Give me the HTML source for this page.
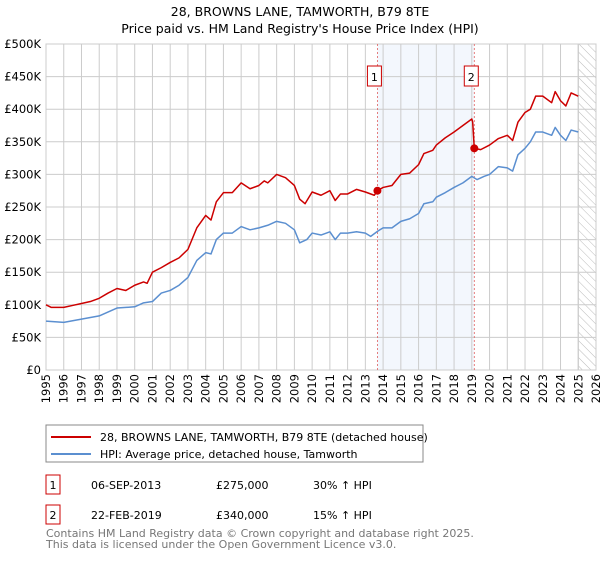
<!DOCTYPE html>
<html><head><meta charset="utf-8"><style>
body{margin:0;background:#fff;font-family:"Liberation Sans","DejaVu Sans",sans-serif;}
svg text{font-family:"DejaVu Sans","Liberation Sans",sans-serif;}
</style></head><body>
<svg id="chart" width="600" height="560" xmlns="http://www.w3.org/2000/svg">
<defs><pattern id="hatch" width="6" height="6" patternUnits="userSpaceOnUse" patternTransform="rotate(-45)"><line x1="0" y1="0" x2="0" y2="6" stroke="#bbb" stroke-width="1"/></pattern></defs>
<text x="300" y="16" text-anchor="middle" font-size="12.5">28, BROWNS LANE, TAMWORTH, B79 8TE</text>
<text x="300" y="33" text-anchor="middle" font-size="12.5">Price paid vs. HM Land Registry's House Price Index (HPI)</text>
<g id="grid"></g><g id="marks"></g>
<rect x="46" y="425" width="377" height="37" fill="#fff" stroke="#888"/>
<line x1="51" y1="437" x2="91" y2="437" stroke="#cc0000" stroke-width="2"/>
<text x="100" y="441" font-size="11">28, BROWNS LANE, TAMWORTH, B79 8TE (detached house)</text>
<line x1="51" y1="454" x2="91" y2="454" stroke="#5b8fd0" stroke-width="2"/>
<text x="100" y="458" font-size="11">HPI: Average price, detached house, Tamworth</text>
<g font-size="11">
<rect x="46" y="475" width="14" height="19" fill="#fff" stroke="#cc0000"/><text x="53" y="489" text-anchor="middle">1</text>
<text x="91" y="489">06-SEP-2013</text><text x="216" y="489">£275,000</text><text x="313" y="489">30% ↑ HPI</text></g>
<g font-size="11">
<rect x="46" y="505" width="14" height="19" fill="#fff" stroke="#cc0000"/><text x="53" y="519" text-anchor="middle">2</text>
<text x="91" y="519">22-FEB-2019</text><text x="216" y="519">£340,000</text><text x="313" y="519">15% ↑ HPI</text></g>
<text x="46" y="537" font-size="11" fill="#777">Contains HM Land Registry data © Crown copyright and database right 2025.</text>
<text x="46" y="548" font-size="11" fill="#777">This data is licensed under the Open Government Licence v3.0.</text>
</svg>
<script>
const hpiYears=[1995,1996,1997,1998,1999,2000,2000.5,2001,2001.5,2002,2002.5,2003,2003.5,2004,2004.3,2004.6,2005,2005.5,2006,2006.5,2007,2007.5,2008,2008.5,2009,2009.3,2009.7,2010,2010.5,2011,2011.3,2011.6,2012,2012.5,2013,2013.3,2013.7,2014,2014.5,2015,2015.5,2016,2016.3,2016.8,2017,2017.5,2018,2018.5,2019,2019.3,2019.7,2020,2020.5,2021,2021.3,2021.6,2022,2022.3,2022.6,2023,2023.5,2023.7,2024,2024.3,2024.6,2025];
const hpiValues=[75,73,78,83,95,97,103,105,118,122,130,142,168,180,178,200,210,210,220,215,218,222,228,225,215,195,200,210,207,212,200,210,210,212,210,205,213,218,218,228,232,240,255,258,265,272,280,287,297,292,297,300,312,310,305,330,340,350,365,365,360,372,360,352,368,365];
const priceYears=[1995,1995.3,1996,1996.5,1997,1997.5,1998,1998.5,1999,1999.5,2000,2000.5,2000.7,2001,2001.5,2002,2002.5,2003,2003.5,2004,2004.3,2004.6,2005,2005.5,2006,2006.5,2007,2007.3,2007.5,2008,2008.5,2009,2009.3,2009.6,2010,2010.5,2011,2011.3,2011.6,2012,2012.5,2013,2013.5,2013.68,2014,2014.5,2015,2015.5,2016,2016.3,2016.8,2017,2017.5,2018,2018.5,2019,2019.05,2019.14,2019.5,2020,2020.5,2021,2021.3,2021.6,2022,2022.3,2022.6,2023,2023.5,2023.7,2024,2024.3,2024.6,2025];
const priceValues=[100,96,96,99,102,105,110,118,125,122,130,135,133,150,157,165,172,185,218,237,230,258,272,272,287,278,283,290,287,300,295,283,262,255,273,268,275,260,270,270,277,273,268,275,280,283,300,302,315,332,337,345,356,365,375,385,380,340,338,345,355,360,352,380,395,400,420,420,410,427,413,405,425,420];
const saleYears=[2013.68,2019.14];
const saleValues=[275,340];
const saleLabels=["1","2"];
const yTicks=[0,50,100,150,200,250,300,350,400,450,500];
const yTickLabels=["£0","£50K","£100K","£150K","£200K","£250K","£300K","£350K","£400K","£450K","£500K"];
const xTicks=[1995,1996,1997,1998,1999,2000,2001,2002,2003,2004,2005,2006,2007,2008,2009,2010,2011,2012,2013,2014,2015,2016,2017,2018,2019,2020,2021,2022,2023,2024,2025,2026];

const NS="http://www.w3.org/2000/svg";
const L=46,R=596,T=44,B=370,X0=1995,X1=2026,Y1=500;
const xs=v=>L+(v-X0)/(X1-X0)*(R-L);
const ys=v=>B-v/Y1*(B-T);
function mk(tag,attrs,parent){const e=document.createElementNS(NS,tag);for(const k in attrs)e.setAttribute(k,attrs[k]);parent.appendChild(e);return e;}
const grid=document.getElementById('grid'),marks=document.getElementById('marks');
mk('rect',{x:L,y:T,width:R-L,height:B-T,fill:'#fff'},grid);
const shade=mk('rect',{x:xs(saleYears[0]),y:T,width:xs(saleYears[1])-xs(saleYears[0]),height:B-T,fill:'#eef3fc',opacity:0.7},grid);


const hatch=mk('rect',{x:xs(2025.0),y:T,width:R-xs(2025.0),height:B-T,fill:'url(#hatch)',stroke:'#bbb'},grid);


yTicks.forEach((v,i)=>{
 mk('line',{x1:L,x2:R,y1:ys(v),y2:ys(v),stroke:'#ccc'},grid);
 const t=mk('text',{x:L-5,y:ys(v)+4,'text-anchor':'end','font-size':11.5},grid);t.textContent=yTickLabels[i];
 
 
});
xTicks.forEach(v=>{
 mk('line',{x1:xs(v),x2:xs(v),y1:T,y2:B,stroke:'#ccc'},grid);
 const t=mk('text',{x:0,y:0,'text-anchor':'end','font-size':11.5,transform:`translate(${xs(v)+4},${B+4}) rotate(-90)`},grid);t.textContent=v;
 
 
});
mk('rect',{x:L,y:T,width:R-L,height:B-T,fill:'none',stroke:'#ccc'},grid);
saleYears.forEach((y,i)=>{
 mk('line',{x1:xs(y),x2:xs(y),y1:T,y2:B,stroke:'#e06060','stroke-dasharray':'2,2','stroke-width':0.8},marks);
 const g=mk('g',{},marks);
 
 
 mk('rect',{x:xs(y)-10,y:66,width:14,height:20,fill:'#fff',stroke:'#cc0000'},g);
 const t=mk('text',{x:xs(y)-3,y:81,'text-anchor':'middle','font-size':11},g);t.textContent=saleLabels[i];
});
function line(xa,ya,color,name){
 const p=mk('polyline',{points:xa.map((x,i)=>xs(x)+','+ys(ya[i])).join(' '),fill:'none',stroke:color,'stroke-width':1.5,'stroke-linejoin':'round'},marks);
 
 
}
line(hpiYears,hpiValues,'#5b8fd0','hpi-line');
line(priceYears,priceValues,'#cc0000','price-line');
saleYears.forEach((y,i)=>{
 const c=mk('circle',{cx:xs(y),cy:ys(saleValues[i]),r:4,fill:'#cc0000'},marks);
 
 
});
</script>
</body></html>
